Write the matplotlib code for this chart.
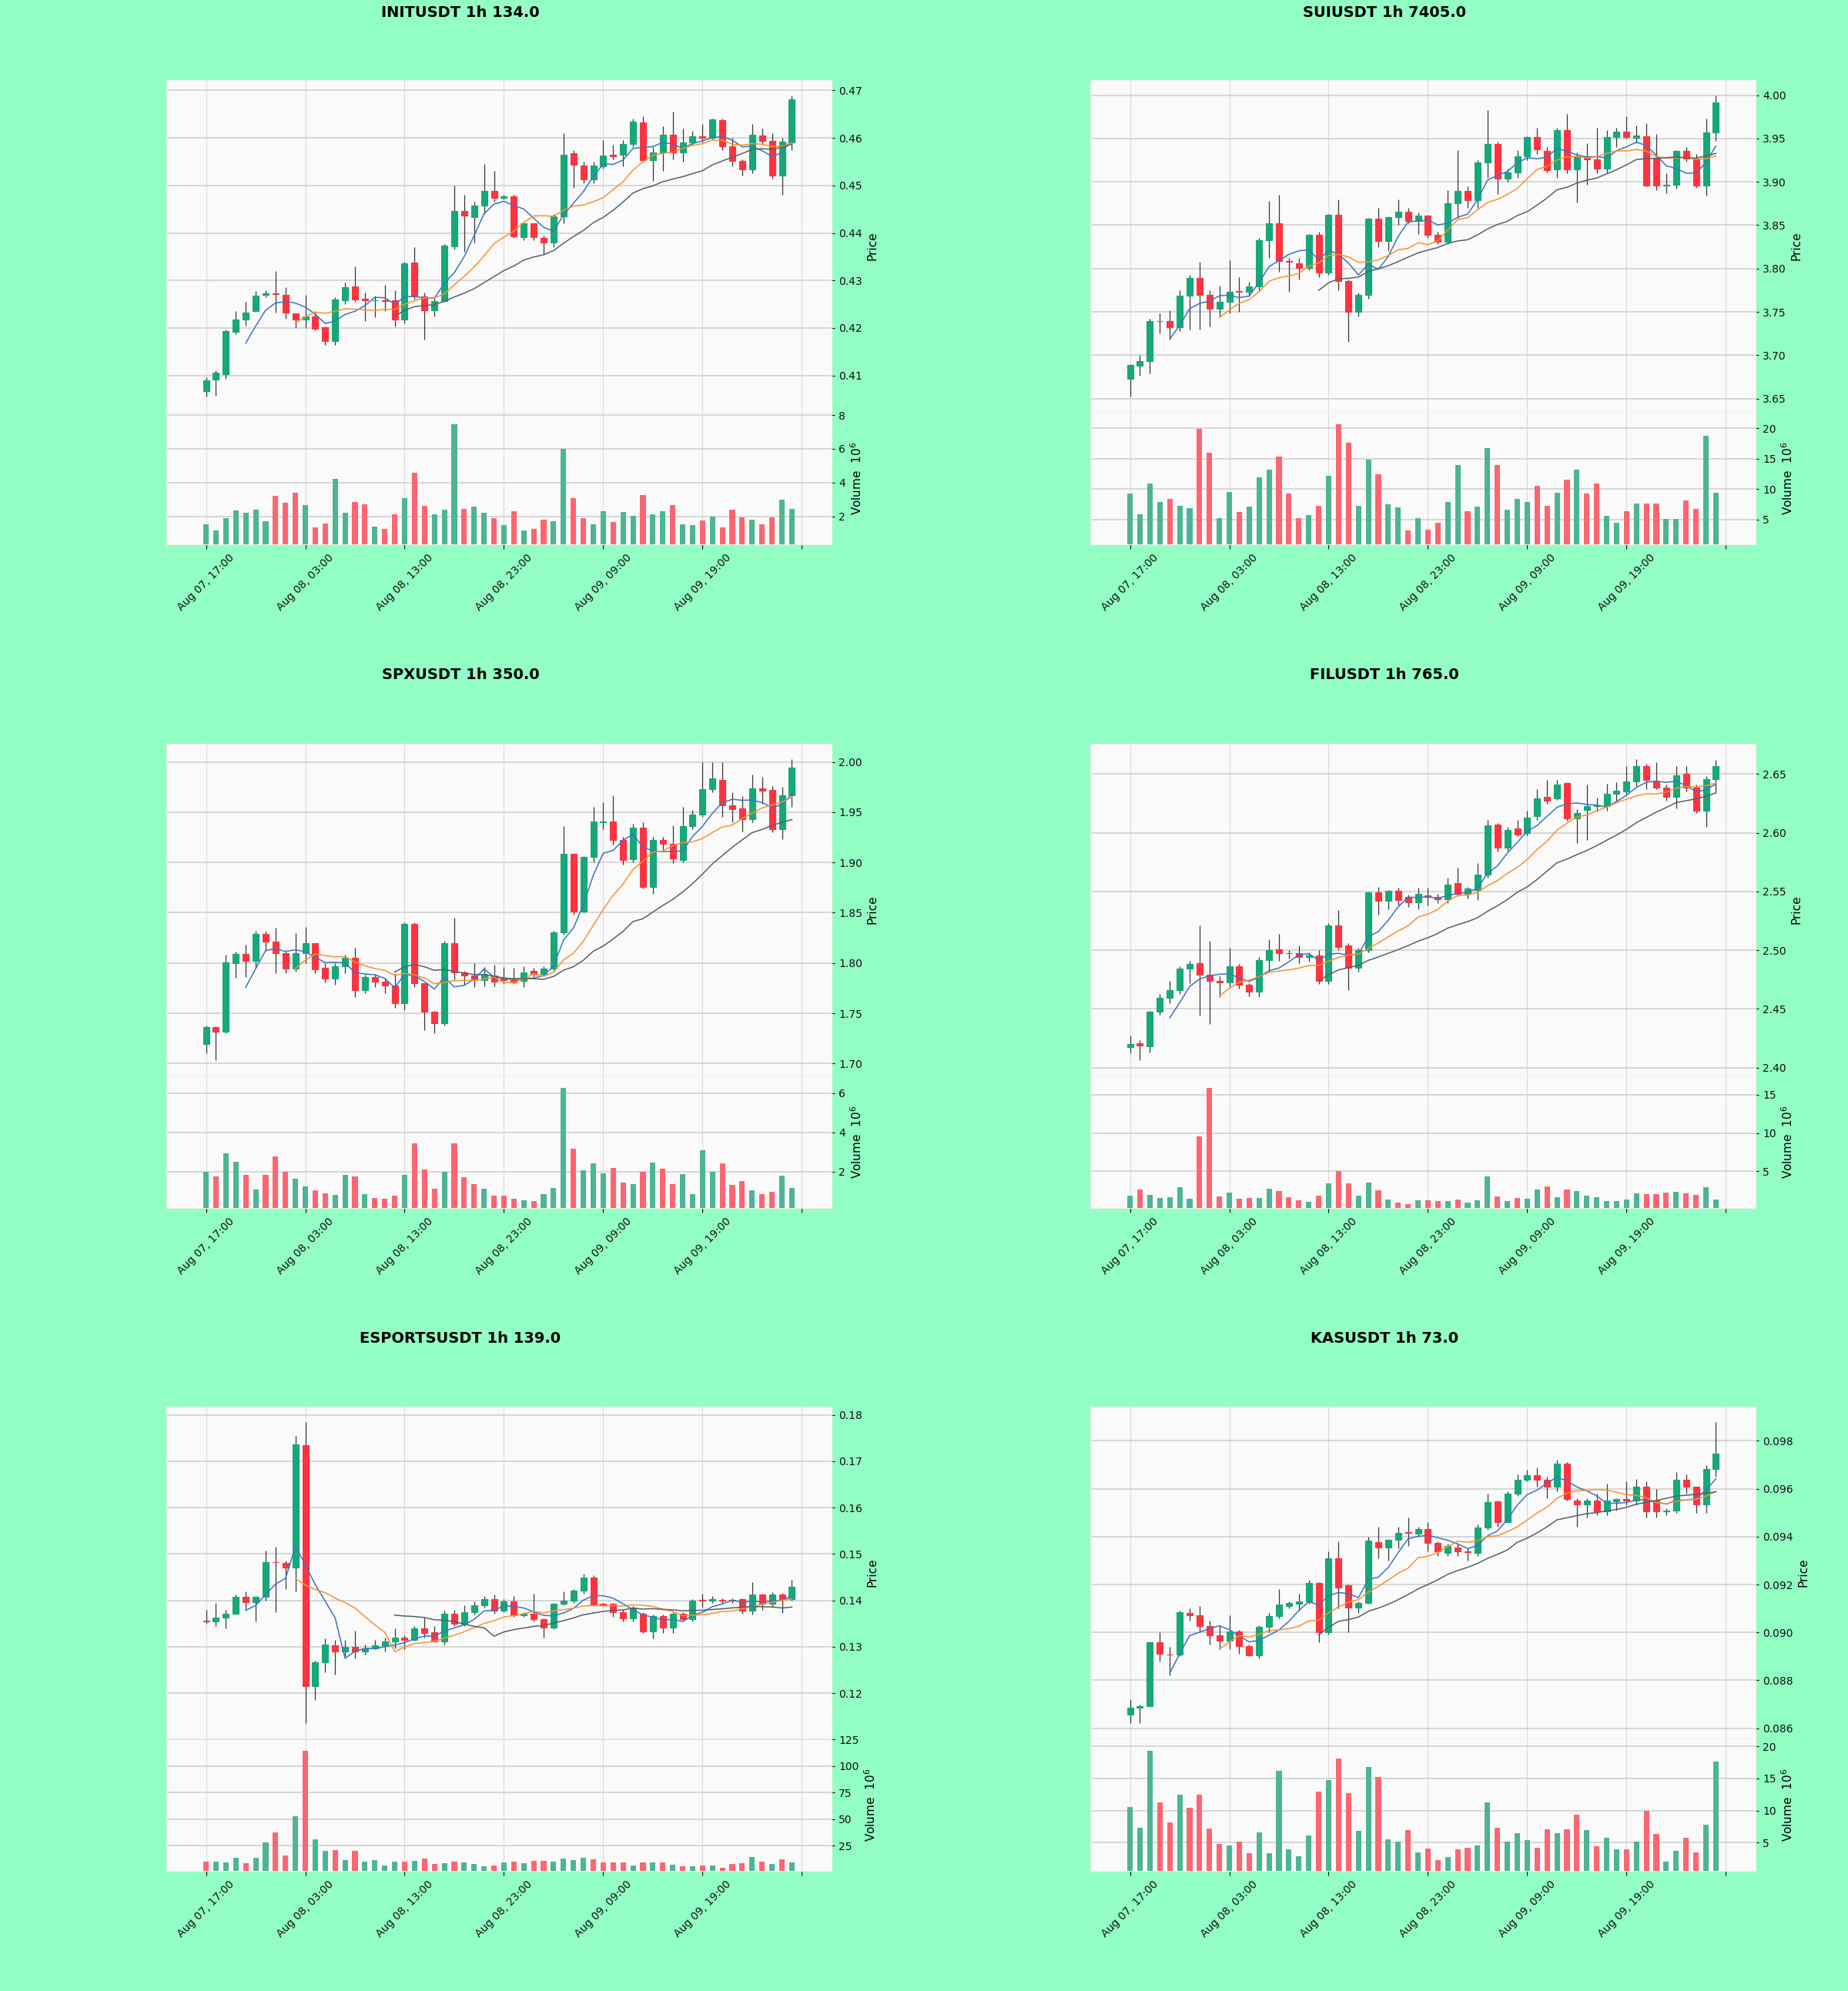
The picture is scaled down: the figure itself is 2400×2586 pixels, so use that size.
import numpy as np
import pandas as pd
import matplotlib
matplotlib.use("Agg")
import matplotlib.pyplot as plt

# hourly candles, 60 per panel, starting Aug 07 17:00
start = "2025-08-07 17:00"
n_candles = 60

# ---- INITUSDT ----
init_open = [0.4067, 0.4091, 0.4103, 0.4191, 0.4218, 0.4236, 0.4269, 0.4273, 0.4270, 0.4230,
             0.4217, 0.4225, 0.4202, 0.4172, 0.4258, 0.4287, 0.4262, 0.4258, 0.4258, 0.4258,
             0.4217, 0.4338, 0.4266, 0.4237, 0.4257, 0.4372, 0.4447, 0.4433, 0.4458, 0.4488,
             0.4474, 0.4477, 0.4391, 0.4420, 0.4390, 0.4380, 0.4435, 0.4568, 0.4542, 0.4512,
             0.4541, 0.4564, 0.4564, 0.4588, 0.4632, 0.4554, 0.4570, 0.4607, 0.4569, 0.4590,
             0.4603, 0.4600, 0.4637, 0.4583, 0.4551, 0.4533, 0.4605, 0.4594, 0.4521, 0.4590]
init_high = [0.4096, 0.4110, 0.4196, 0.4235, 0.4255, 0.4278, 0.4280, 0.4320, 0.4285, 0.4230,
             0.4270, 0.4235, 0.4203, 0.4265, 0.4295, 0.4330, 0.4275, 0.4268, 0.4290, 0.4280,
             0.4340, 0.4370, 0.4275, 0.4265, 0.4376, 0.4500, 0.4480, 0.4465, 0.4545, 0.4530,
             0.4480, 0.4480, 0.4420, 0.4420, 0.4395, 0.4440, 0.4610, 0.4575, 0.4550, 0.4550,
             0.4595, 0.4585, 0.4595, 0.4640, 0.4645, 0.4580, 0.4625, 0.4655, 0.4620, 0.4615,
             0.4630, 0.4640, 0.4640, 0.4600, 0.4555, 0.4630, 0.4620, 0.4610, 0.4600, 0.4690]
init_low = [0.4055, 0.4058, 0.4093, 0.4187, 0.4205, 0.4234, 0.4265, 0.4232, 0.4220, 0.4200,
            0.4200, 0.4195, 0.4165, 0.4165, 0.4250, 0.4255, 0.4215, 0.4222, 0.4235, 0.4203,
            0.4210, 0.4260, 0.4175, 0.4225, 0.4255, 0.4365, 0.4360, 0.4380, 0.4440, 0.4465,
            0.4470, 0.4390, 0.4385, 0.4385, 0.4355, 0.4370, 0.4420, 0.4495, 0.4505, 0.4505,
            0.4535, 0.4555, 0.4540, 0.4580, 0.4550, 0.4510, 0.4530, 0.4555, 0.4550, 0.4585,
            0.4590, 0.4595, 0.4575, 0.4540, 0.4520, 0.4525, 0.4585, 0.4515, 0.4480, 0.4575]
init_close = [0.4090, 0.4106, 0.4194, 0.4218, 0.4233, 0.4268, 0.4273, 0.4271, 0.4232, 0.4218,
              0.4225, 0.4199, 0.4172, 0.4260, 0.4285, 0.4260, 0.4258, 0.4259, 0.4256, 0.4217,
              0.4336, 0.4266, 0.4237, 0.4257, 0.4374, 0.4447, 0.4436, 0.4458, 0.4488, 0.4474,
              0.4477, 0.4392, 0.4420, 0.4391, 0.4379, 0.4435, 0.4565, 0.4543, 0.4512, 0.4542,
              0.4563, 0.4562, 0.4588, 0.4634, 0.4554, 0.4570, 0.4607, 0.4570, 0.4590, 0.4603,
              0.4600, 0.4639, 0.4583, 0.4551, 0.4533, 0.4606, 0.4593, 0.4521, 0.4592, 0.4681]
init_vol = [1.55, 1.15, 1.88, 2.33, 2.21, 2.41, 1.70, 3.20, 2.79, 3.39,
            2.67, 1.35, 1.58, 4.20, 2.21, 2.83, 2.71, 1.39, 1.24, 2.12,
            3.06, 4.56, 2.62, 2.11, 2.41, 7.44, 2.42, 2.58, 2.21, 1.89,
            1.50, 2.30, 1.14, 1.26, 1.80, 1.70, 6.00, 3.09, 1.88, 1.52,
            2.29, 1.67, 2.24, 2.05, 3.24, 2.11, 2.29, 2.67, 1.55, 1.47,
            1.76, 2.00, 1.36, 2.38, 1.92, 1.80, 1.55, 1.92, 2.97, 2.45]

# ---- SUIUSDT ----
sui_open = [3.6724, 3.6877, 3.6932, 3.7390, 3.7393, 3.7323, 3.7683, 3.7889, 3.7700, 3.7533,
            3.7620, 3.7737, 3.7735, 3.7794, 3.8328, 3.8520, 3.8085, 3.8062, 3.8003, 3.8387,
            3.7950, 3.8620, 3.7860, 3.7500, 3.7700, 3.8573, 3.8320, 3.8597, 3.8657, 3.8550,
            3.8607, 3.8390, 3.8310, 3.8754, 3.8894, 3.8790, 3.9225, 3.9435, 3.9033, 3.9110,
            3.9295, 3.9515, 3.9360, 3.9145, 3.9600, 3.9145, 3.9295, 3.9260, 3.9155, 3.9515,
            3.9575, 3.9505, 3.9530, 3.9280, 3.8955, 3.8965, 3.9355, 3.9267, 3.8955, 3.9574]
sui_high = [3.690, 3.700, 3.742, 3.748, 3.752, 3.775, 3.793, 3.808, 3.775, 3.780,
            3.810, 3.790, 3.785, 3.835, 3.878, 3.885, 3.812, 3.812, 3.840, 3.842,
            3.863, 3.880, 3.787, 3.772, 3.858, 3.870, 3.860, 3.880, 3.870, 3.865,
            3.862, 3.842, 3.890, 3.937, 3.895, 3.925, 3.983, 3.946, 3.915, 3.937,
            3.953, 3.962, 3.940, 3.962, 3.978, 3.934, 3.945, 3.962, 3.960, 3.962,
            3.976, 3.965, 3.968, 3.955, 3.910, 3.937, 3.940, 3.932, 3.973, 4.000]
sui_low = [3.652, 3.676, 3.679, 3.725, 3.718, 3.728, 3.730, 3.730, 3.733, 3.745,
           3.748, 3.750, 3.768, 3.775, 3.812, 3.796, 3.773, 3.787, 3.798, 3.790,
           3.793, 3.775, 3.715, 3.745, 3.765, 3.825, 3.820, 3.850, 3.852, 3.840,
           3.835, 3.828, 3.828, 3.858, 3.870, 3.870, 3.905, 3.886, 3.900, 3.905,
           3.925, 3.932, 3.911, 3.905, 3.910, 3.876, 3.897, 3.910, 3.910, 3.940,
           3.950, 3.945, 3.895, 3.890, 3.887, 3.892, 3.923, 3.893, 3.884, 3.947]
sui_close = [3.6888, 3.6932, 3.7393, 3.7395, 3.7323, 3.7683, 3.7889, 3.7700, 3.7533, 3.7620,
             3.7735, 3.7732, 3.7794, 3.8328, 3.8520, 3.8090, 3.8082, 3.8003, 3.8387, 3.7950,
             3.8620, 3.7860, 3.7500, 3.7700, 3.8573, 3.8320, 3.8597, 3.8657, 3.8550, 3.8607,
             3.8390, 3.8310, 3.8754, 3.8894, 3.8790, 3.9225, 3.9435, 3.9033, 3.9110, 3.9295,
             3.9515, 3.9375, 3.9138, 3.9600, 3.9145, 3.9295, 3.9260, 3.9155, 3.9515, 3.9575,
             3.9515, 3.9532, 3.8955, 3.8955, 3.8970, 3.9355, 3.9267, 3.8955, 3.9574, 3.9916]
sui_vol = [9.25, 5.9, 10.9, 7.9, 8.4, 7.3, 6.9, 19.85, 16.0, 5.3,
           9.55, 6.2, 7.2, 11.9, 13.2, 15.3, 9.25, 5.3, 5.7, 7.3,
           12.2, 20.6, 17.6, 7.3, 14.8, 12.4, 7.5, 7.0, 3.2, 5.3,
           3.4, 4.5, 7.9, 14.0, 6.4, 7.1, 16.7, 14.0, 6.6, 8.4,
           7.9, 10.5, 7.3, 9.4, 11.5, 13.2, 9.3, 10.9, 5.6, 4.5,
           6.4, 7.6, 7.6, 7.6, 5.1, 5.1, 8.2, 6.8, 18.7, 9.4]

# ---- SPXUSDT ----
spx_open = [1.7197, 1.7364, 1.7318, 1.8000, 1.8090, 1.8020, 1.8288, 1.8215, 1.8100, 1.7948,
            1.8100, 1.8197, 1.7950, 1.7842, 1.7964, 1.8055, 1.7730, 1.7858, 1.7812, 1.7773,
            1.7600, 1.8388, 1.7797, 1.7515, 1.7397, 1.8197, 1.7903, 1.7873, 1.7833, 1.7873,
            1.7848, 1.7827, 1.7818, 1.7924, 1.7894, 1.7942, 1.8306, 1.9085, 1.8510, 1.9055,
            1.9400, 1.9403, 1.9221, 1.9030, 1.9348, 1.8758, 1.9221, 1.9185, 1.9024, 1.9364,
            1.9479, 1.9727, 1.9820, 1.9570, 1.9540, 1.9427, 1.9736, 1.9720, 1.9327, 1.9667]
spx_high = [1.738, 1.737, 1.808, 1.811, 1.818, 1.832, 1.832, 1.835, 1.811, 1.830,
            1.836, 1.820, 1.800, 1.800, 1.808, 1.815, 1.788, 1.788, 1.785, 1.790,
            1.840, 1.840, 1.780, 1.752, 1.822, 1.845, 1.792, 1.800, 1.796, 1.798,
            1.796, 1.795, 1.797, 1.795, 1.797, 1.832, 1.936, 1.909, 1.906, 1.955,
            1.960, 1.967, 1.925, 1.938, 1.940, 1.925, 1.925, 1.937, 1.955, 1.952,
            2.000, 2.000, 2.000, 1.970, 1.966, 1.987, 1.985, 1.976, 1.975, 2.003]
spx_low = [1.710, 1.703, 1.730, 1.785, 1.786, 1.795, 1.812, 1.790, 1.790, 1.791,
           1.800, 1.790, 1.781, 1.778, 1.790, 1.766, 1.770, 1.776, 1.770, 1.755,
           1.753, 1.776, 1.733, 1.730, 1.738, 1.784, 1.778, 1.776, 1.777, 1.777,
           1.779, 1.779, 1.776, 1.786, 1.787, 1.792, 1.828, 1.848, 1.850, 1.900,
           1.933, 1.918, 1.898, 1.900, 1.874, 1.869, 1.912, 1.899, 1.900, 1.933,
           1.945, 1.970, 1.945, 1.940, 1.931, 1.940, 1.958, 1.930, 1.923, 1.955]
spx_close = [1.7364, 1.7318, 1.8003, 1.8090, 1.8020, 1.8288, 1.8215, 1.8100, 1.7948, 1.8100,
             1.8197, 1.7933, 1.7842, 1.7964, 1.8055, 1.7730, 1.7858, 1.7812, 1.7773, 1.7600,
             1.8388, 1.7797, 1.7515, 1.7397, 1.8197, 1.7903, 1.7873, 1.7833, 1.7888, 1.7812,
             1.7827, 1.7803, 1.7909, 1.7894, 1.7942, 1.8306, 1.9085, 1.8510, 1.9055, 1.9403,
             1.9405, 1.9221, 1.9024, 1.9348, 1.8758, 1.9221, 1.9185, 1.9040, 1.9364, 1.9479,
             1.9727, 1.9833, 1.9570, 1.9530, 1.9427, 1.9736, 1.9712, 1.9327, 1.9667, 1.9940]
spx_vol = [2.0, 1.77, 2.92, 2.49, 1.82, 1.08, 1.82, 2.77, 2.0, 1.62,
           1.23, 1.05, 0.89, 0.80, 1.82, 1.77, 0.85, 0.65, 0.62, 0.77,
           1.82, 3.42, 2.12, 1.11, 2.0, 3.42, 1.72, 1.38, 1.11, 0.77,
           0.77, 0.62, 0.54, 0.49, 0.85, 1.15, 6.26, 3.18, 2.08, 2.42,
           1.92, 2.2, 1.43, 1.38, 1.97, 2.46, 2.15, 1.38, 1.89, 0.85,
           3.08, 2.0, 2.43, 1.34, 1.51, 1.03, 0.85, 0.97, 1.8, 1.18]

# ---- FILUSDT ----
fil_open = [2.4171, 2.4208, 2.4184, 2.4474, 2.4597, 2.4658, 2.4842, 2.4890, 2.4790, 2.4737,
            2.4724, 2.4860, 2.4703, 2.4645, 2.4916, 2.5008, 2.4975, 2.4974, 2.4940, 2.4955,
            2.4737, 2.5210, 2.5040, 2.4850, 2.5000, 2.5492, 2.5421, 2.5505, 2.5455, 2.5408,
            2.5468, 2.5455, 2.5434, 2.5570, 2.5480, 2.5513, 2.5645, 2.6070, 2.5876, 2.6040,
            2.6000, 2.6139, 2.6303, 2.6290, 2.6421, 2.6124, 2.6192, 2.6229, 2.6224, 2.6334,
            2.6355, 2.6440, 2.6571, 2.6440, 2.6382, 2.6308, 2.6500, 2.6387, 2.6189, 2.6460]
fil_high = [2.427, 2.423, 2.448, 2.463, 2.474, 2.486, 2.491, 2.521, 2.508, 2.478,
            2.502, 2.488, 2.472, 2.494, 2.509, 2.514, 2.500, 2.504, 2.498, 2.500,
            2.523, 2.534, 2.506, 2.502, 2.550, 2.554, 2.551, 2.553, 2.547, 2.553,
            2.553, 2.548, 2.562, 2.570, 2.554, 2.574, 2.611, 2.608, 2.605, 2.611,
            2.619, 2.637, 2.645, 2.645, 2.643, 2.620, 2.641, 2.630, 2.642, 2.643,
            2.657, 2.663, 2.659, 2.660, 2.641, 2.657, 2.657, 2.641, 2.648, 2.662]
fil_low = [2.412, 2.406, 2.413, 2.445, 2.455, 2.463, 2.472, 2.444, 2.437, 2.460,
           2.468, 2.467, 2.461, 2.460, 2.482, 2.491, 2.493, 2.489, 2.490, 2.471,
           2.471, 2.500, 2.466, 2.482, 2.498, 2.530, 2.535, 2.538, 2.537, 2.535,
           2.538, 2.540, 2.540, 2.546, 2.544, 2.543, 2.562, 2.584, 2.585, 2.597,
           2.598, 2.611, 2.625, 2.628, 2.610, 2.591, 2.594, 2.618, 2.619, 2.627,
           2.632, 2.640, 2.637, 2.637, 2.627, 2.621, 2.635, 2.617, 2.605, 2.634]
fil_close = [2.4203, 2.4189, 2.4474, 2.4597, 2.4658, 2.4842, 2.4882, 2.4790, 2.4737, 2.4724,
             2.4860, 2.4703, 2.4645, 2.4916, 2.5000, 2.4974, 2.4973, 2.4940, 2.4955, 2.4737,
             2.5210, 2.5026, 2.4850, 2.5000, 2.5492, 2.5421, 2.5505, 2.5429, 2.5408, 2.5479,
             2.5455, 2.5434, 2.5560, 2.5480, 2.5527, 2.5645, 2.6060, 2.5876, 2.6026, 2.5982,
             2.6132, 2.6290, 2.6271, 2.6413, 2.6124, 2.6171, 2.6229, 2.6237, 2.6334, 2.6360,
             2.6440, 2.6566, 2.6453, 2.6382, 2.6308, 2.6487, 2.6382, 2.6189, 2.6460, 2.6566]
fil_vol = [1.84, 2.63, 1.96, 1.56, 1.64, 2.9, 1.44, 9.6, 15.9, 1.76,
           2.23, 1.44, 1.56, 1.56, 2.75, 2.43, 1.64, 1.25, 1.05, 1.84,
           3.42, 5.08, 3.42, 1.84, 3.54, 2.55, 1.32, 0.97, 0.77, 1.25,
           1.25, 1.17, 1.17, 1.36, 0.97, 1.25, 4.33, 1.76, 1.17, 1.56,
           1.44, 2.63, 3.02, 1.64, 2.63, 2.43, 1.84, 1.64, 1.17, 1.17,
           1.36, 2.15, 2.04, 2.04, 2.23, 2.31, 2.15, 1.96, 2.94, 1.36]

# ---- ESPORTSUSDT ----
esp_open = [0.1356, 0.1355, 0.1363, 0.1372, 0.1408, 0.1396, 0.1408, 0.1483, 0.1481, 0.1470,
            0.1734, 0.1215, 0.1266, 0.1304, 0.1290, 0.1300, 0.1290, 0.1297, 0.1303, 0.1311,
            0.1319, 0.1315, 0.1340, 0.1331, 0.1312, 0.1372, 0.1349, 0.1374, 0.1389, 0.1403,
            0.1378, 0.1398, 0.1368, 0.1372, 0.1360, 0.1342, 0.1392, 0.1400, 0.1421, 0.1449,
            0.1393, 0.1393, 0.1374, 0.1361, 0.1372, 0.1333, 0.1367, 0.1341, 0.1371, 0.1360,
            0.1401, 0.1400, 0.1401, 0.1401, 0.1402, 0.1378, 0.1412, 0.1393, 0.1413, 0.1403]
esp_high = [0.1380, 0.1395, 0.1380, 0.1413, 0.1420, 0.1410, 0.1508, 0.1515, 0.1485, 0.1755,
            0.1785, 0.1270, 0.1318, 0.1315, 0.1315, 0.1335, 0.1305, 0.1315, 0.1320, 0.1340,
            0.1325, 0.1345, 0.1365, 0.1345, 0.1378, 0.1380, 0.1390, 0.1398, 0.1410, 0.1413,
            0.1402, 0.1410, 0.1375, 0.1415, 0.1362, 0.1395, 0.1420, 0.1425, 0.1458, 0.1455,
            0.1395, 0.1395, 0.1380, 0.1388, 0.1375, 0.1370, 0.1370, 0.1375, 0.1375, 0.1403,
            0.1415, 0.1410, 0.1405, 0.1405, 0.1405, 0.1440, 0.1415, 0.1418, 0.1416, 0.1445]
esp_low = [0.1350, 0.1345, 0.1340, 0.1370, 0.1380, 0.1354, 0.1400, 0.1375, 0.1425, 0.1420,
           0.1135, 0.1185, 0.1245, 0.1240, 0.1280, 0.1275, 0.1283, 0.1295, 0.1290, 0.1297,
           0.1295, 0.1313, 0.1320, 0.1310, 0.1305, 0.1345, 0.1345, 0.1370, 0.1385, 0.1372,
           0.1375, 0.1365, 0.1365, 0.1355, 0.1320, 0.1338, 0.1390, 0.1395, 0.1415, 0.1388,
           0.1388, 0.1365, 0.1355, 0.1355, 0.1330, 0.1318, 0.1330, 0.1330, 0.1357, 0.1355,
           0.1385, 0.1395, 0.1395, 0.1395, 0.1372, 0.1370, 0.1380, 0.1385, 0.1373, 0.1400]
esp_close = [0.1355, 0.1363, 0.1372, 0.1407, 0.1396, 0.1408, 0.1482, 0.1482, 0.1470, 0.1736,
             0.1215, 0.1266, 0.1305, 0.1290, 0.1300, 0.1290, 0.1297, 0.1303, 0.1311, 0.1319,
             0.1315, 0.1340, 0.1330, 0.1312, 0.1372, 0.1349, 0.1374, 0.1389, 0.1403, 0.1378,
             0.1398, 0.1368, 0.1372, 0.1360, 0.1341, 0.1392, 0.1400, 0.1421, 0.1449, 0.1390,
             0.1390, 0.1374, 0.1361, 0.1385, 0.1333, 0.1367, 0.1341, 0.1371, 0.1360, 0.1400,
             0.1400, 0.1402, 0.1400, 0.1400, 0.1378, 0.1412, 0.1393, 0.1413, 0.1403, 0.1429]
esp_vol = [9.8, 10.2, 9.5, 13.8, 8.3, 13.8, 28.1, 37.6, 16.0, 53.1,
           114.5, 31.2, 20.2, 20.5, 11.4, 19.8, 9.8, 11.4, 6.7, 10.2,
           10.2, 10.7, 13.1, 7.9, 8.3, 9.8, 9.5, 7.9, 5.5, 6.7,
           9.0, 10.2, 8.3, 11.0, 11.0, 10.2, 12.6, 11.4, 13.3, 11.9,
           9.5, 9.5, 9.0, 6.7, 9.5, 9.5, 9.0, 7.4, 6.0, 6.0,
           6.7, 6.7, 4.3, 7.9, 8.3, 14.5, 9.8, 7.9, 12.1, 9.0]

# ---- KASUSDT ----
kas_open = [0.08657, 0.08685, 0.08691, 0.08958, 0.08909, 0.08907, 0.09082, 0.09073, 0.09028, 0.08988,
            0.08965, 0.09003, 0.08942, 0.08904, 0.09022, 0.09069, 0.09110, 0.09120, 0.09130, 0.09206,
            0.09000, 0.09310, 0.09196, 0.09105, 0.09124, 0.09377, 0.09356, 0.09387, 0.09418, 0.09412,
            0.09433, 0.09374, 0.09333, 0.09356, 0.09337, 0.09333, 0.09438, 0.09546, 0.09461, 0.09581,
            0.09636, 0.09658, 0.09638, 0.09607, 0.09705, 0.09552, 0.09534, 0.09552, 0.09505, 0.09547,
            0.09556, 0.09550, 0.09610, 0.09550, 0.09505, 0.09509, 0.09636, 0.09607, 0.09534, 0.09681]
kas_high = [0.0872, 0.0870, 0.0896, 0.0900, 0.0894, 0.0909, 0.0910, 0.0911, 0.0905, 0.0903,
            0.0907, 0.0901, 0.0895, 0.0903, 0.0908, 0.0918, 0.0913, 0.0916, 0.0922, 0.0921,
            0.0934, 0.0938, 0.0920, 0.0913, 0.0940, 0.0944, 0.0939, 0.0944, 0.0948, 0.0944,
            0.0946, 0.0938, 0.0937, 0.0937, 0.0935, 0.0945, 0.0958, 0.0955, 0.0959, 0.0966,
            0.0968, 0.0969, 0.0965, 0.0972, 0.0971, 0.0956, 0.0956, 0.0958, 0.0962, 0.0956,
            0.0963, 0.0964, 0.0963, 0.0960, 0.0952, 0.0967, 0.0966, 0.0961, 0.0970, 0.0988]
kas_low = [0.0862, 0.0862, 0.0869, 0.0888, 0.0882, 0.0890, 0.0905, 0.0900, 0.0895, 0.0893,
           0.0893, 0.0891, 0.0890, 0.0889, 0.0900, 0.0906, 0.0910, 0.0909, 0.0912, 0.0896,
           0.0899, 0.0910, 0.0900, 0.0908, 0.0912, 0.0931, 0.0930, 0.0935, 0.0936, 0.0940,
           0.0934, 0.0932, 0.0932, 0.0932, 0.0930, 0.0932, 0.0943, 0.0944, 0.0946, 0.0957,
           0.0963, 0.0961, 0.0956, 0.0959, 0.0955, 0.0944, 0.0948, 0.0949, 0.0949, 0.0951,
           0.0953, 0.0953, 0.0948, 0.0948, 0.0949, 0.0950, 0.0958, 0.0950, 0.0950, 0.0965]
kas_close = [0.08685, 0.08691, 0.08958, 0.08911, 0.08907, 0.09085, 0.09073, 0.09028, 0.08988, 0.08965,
             0.09003, 0.08942, 0.08904, 0.09022, 0.09069, 0.09115, 0.09122, 0.09130, 0.09206, 0.09000,
             0.09310, 0.09187, 0.09105, 0.09124, 0.09382, 0.09356, 0.09387, 0.09416, 0.09415, 0.09433,
             0.09375, 0.09340, 0.09361, 0.09340, 0.09335, 0.09438, 0.09543, 0.09461, 0.09581, 0.09636,
             0.09658, 0.09636, 0.09607, 0.09705, 0.09556, 0.09534, 0.09552, 0.09505, 0.09550, 0.09556,
             0.09550, 0.09610, 0.09505, 0.09505, 0.09509, 0.09636, 0.09607, 0.09534, 0.09683, 0.09747]
kas_vol = [10.5, 7.3, 19.3, 11.3, 8.1, 12.5, 10.4, 12.5, 7.2, 4.8,
           4.5, 5.2, 3.4, 6.6, 3.3, 16.2, 4.0, 2.9, 6.1, 13.0,
           14.7, 18.1, 12.7, 6.8, 16.8, 15.2, 5.5, 5.1, 7.0, 3.5,
           4.1, 2.3, 2.7, 4.0, 4.2, 4.5, 11.3, 7.3, 5.2, 6.5,
           5.4, 4.2, 7.1, 6.5, 7.1, 9.4, 7.0, 4.4, 5.8, 4.0,
           4.0, 5.2, 10.0, 6.3, 2.0, 3.7, 5.8, 3.5, 7.8, 17.6]

titles = ["INITUSDT 1h 134.0", "SUIUSDT 1h 7405.0", "SPXUSDT 1h 350.0",
          "FILUSDT 1h 765.0", "ESPORTSUSDT 1h 139.0", "KASUSDT 1h 73.0"]

panels = [
    (init_open, init_high, init_low, init_close, init_vol),
    (sui_open, sui_high, sui_low, sui_close, sui_vol),
    (spx_open, spx_high, spx_low, spx_close, spx_vol),
    (fil_open, fil_high, fil_low, fil_close, fil_vol),
    (esp_open, esp_high, esp_low, esp_close, esp_vol),
    (kas_open, kas_high, kas_low, kas_close, kas_vol),
]

# colours
BG = "#92fec4"
FACE = "#fafafa"
UP, DOWN = "#16a878", "#fe333f"
VUP, VDOWN = "#4cb592", "#fb6670"
WICK = "#383838"
MA_COLORS = {5: "#3a74c0", 10: "#f7922e", 20: "#56606a"}

times = pd.date_range(start, periods=n_candles, freq="h")
tick_pos = list(range(0, n_candles + 1, 10))
tick_lab = [times[i].strftime("%b %d, %H:%M") if i < n_candles else "" for i in tick_pos]

W, H = 2400, 2586
fig = plt.figure(figsize=(24, 25.86), dpi=100, facecolor=BG)

col_x = [216, 1416]
row_top = [104, 966, 1827]
ax_w, price_h, vol_h = 864, 431, 172
title_x = [598, 1798]
title_y = [16, 877, 1739]


def style_axis(ax):
    ax.set_facecolor(FACE)
    for s in ax.spines.values():
        s.set_color("#f0f0f0")
    ax.yaxis.tick_right()
    ax.yaxis.set_label_position("right")
    ax.tick_params(axis="y", labelsize=10, colors="#101010", length=3)
    ax.grid(True, axis="y", color="#d0d0d0", linewidth=1.2)
    ax.grid(True, axis="x", color="#dadada", linewidth=0.8)
    ax.set_axisbelow(True)
    ax.set_xlim(-4, 63)
    ax.set_xticks(tick_pos)


for k, (o, h, l, c, v) in enumerate(panels):
    r, col = divmod(k, 2)
    x0 = col_x[col] / W
    top = row_top[r]
    axp = fig.add_axes([x0, 1 - (top + price_h) / H, ax_w / W, price_h / H])
    axv = fig.add_axes([x0, 1 - (top + price_h + vol_h) / H, ax_w / W, vol_h / H], sharex=axp)
    style_axis(axp)
    style_axis(axv)

    o, h, l, c, v = map(np.asarray, (o, h, l, c, v))
    x = np.arange(len(o))
    up = c >= o
    body_col = np.where(up, UP, DOWN)

    axp.vlines(x, l, h, color=WICK, linewidth=0.9, zorder=2)
    axp.bar(x, np.abs(c - o), bottom=np.minimum(o, c), width=0.62,
            color=body_col, edgecolor=body_col, linewidth=0.8, zorder=3)

    close_s = pd.Series(c)
    for win, mc in MA_COLORS.items():
        axp.plot(x, close_s.rolling(win).mean(), color=mc, linewidth=1.1, zorder=4)

    rng = h.max() - l.min()
    axp.set_ylim(l.min() - 0.05 * rng, h.max() + 0.05 * rng)
    axp.set_ylabel("Price", fontsize=11)
    axp.tick_params(axis="x", length=0, labelbottom=False)

    axv.bar(x, v, width=0.55, color=np.where(up, VUP, VDOWN), zorder=3)
    axv.set_ylim(0.3 * v.min(), 1.1 * v.max())
    axv.set_ylabel("Volume  $10^{6}$", fontsize=11)
    axv.set_xticklabels(tick_lab, rotation=45, ha="center", fontsize=10)
    axv.tick_params(axis="x", labelsize=10, colors="#101010", length=4)

    fig.text(title_x[col] / W, 1 - title_y[r] / H, titles[k], ha="center", va="center",
             fontsize=14, fontweight="bold")

fig.savefig("out.png", dpi=100, facecolor=BG)
